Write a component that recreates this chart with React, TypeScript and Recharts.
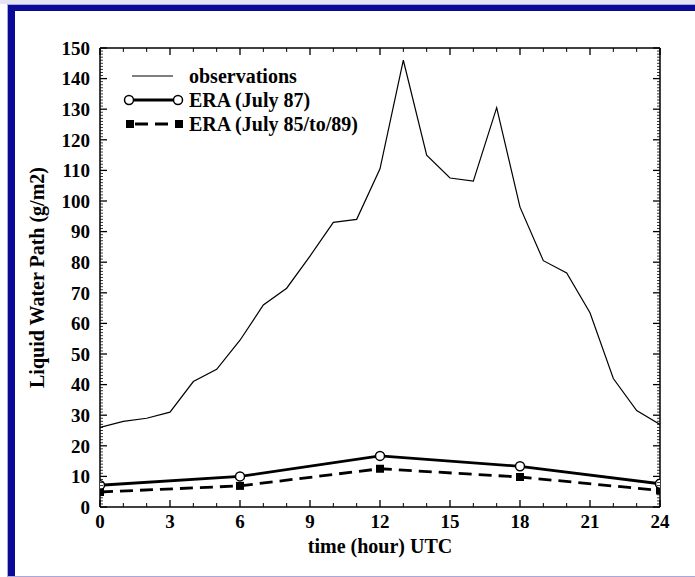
import React from 'react';
import { LineChart, Line, XAxis, YAxis, Legend, Label, ReferenceLine } from 'recharts';

// Hour of day (UTC) for the observed diurnal cycle
const hours = [0, 1, 2, 3, 4, 5, 6, 7, 8, 9, 10, 11, 12, 13, 14, 15, 16, 17, 18, 19, 20, 21, 22, 23, 24];
// Observed liquid water path (g/m2)
const observations = [26, 28, 29, 31, 41, 45, 54.5, 66, 71.5, 82, 93, 94, 110.5, 146, 115, 107.5, 106.5, 130.5, 98, 80.5, 76.5, 63.5, 42, 31.5, 27];
// ERA reanalysis, six-hourly
const eraHours = [0, 6, 12, 18, 24];
const eraJuly87 = [7.1, 10, 16.7, 13.3, 7.6];
const eraJuly85to89 = [4.9, 6.9, 12.5, 9.8, 5.4];

// Labelled ticks every 3 h / 10 g/m2, plain marks every 1 h / 1 g/m2
const xLabelStep = 3;
const yLabelStep = 10;
const yTickValues = Array.from({ length: 151 }, (_, i) => i);

const seriesNames = ['observations', 'ERA (July 87)', 'ERA (July 85/to/89)'];

const table = hours.map((h, i) => {
  const k = eraHours.indexOf(h);
  return {
    hour: h,
    obs: observations[i],
    era87: k >= 0 ? eraJuly87[k] : null,
    era8589: k >= 0 ? eraJuly85to89[k] : null,
  };
});

const FONT = '"Liberation Serif", "Times New Roman", serif';
const INK = '#000';
const NAVY = '#0a0a96';

const MARGIN = { top: 48, right: 35, bottom: 30, left: 0 };
const CHART_W = 695;
const CHART_H = 577;
const Y_AXIS_W = 100;
const X_AXIS_H = 40;
const PLOT_TOP = MARGIN.top;
const PLOT_RIGHT = CHART_W - MARGIN.right;
const X_TICK_MARGIN = 8;
const Y_TICK_MARGIN = 10;

const tickTextStyle = { fontSize: 19, fontWeight: 700, fontFamily: FONT, fill: INK };

// bottom axis: inward marks on the bottom and top frame, label every 3 h
const xTick = (p: any) => {
  const v = p.payload.value;
  const major = v % xLabelStep === 0;
  const len = major ? 7 : 4;
  const base = p.y - X_TICK_MARGIN;
  return (
    <g key={`xt-${v}`}>
      <line x1={p.x} x2={p.x} y1={base} y2={base - len} stroke={INK} strokeWidth={major ? 1.3 : 1} />
      <line x1={p.x} x2={p.x} y1={PLOT_TOP} y2={PLOT_TOP + len} stroke={INK} strokeWidth={major ? 1.3 : 1} />
      {major && (
        <text x={p.x} y={p.y} dy="0.71em" textAnchor="middle" style={tickTextStyle}>{v}</text>
      )}
    </g>
  );
};

// left axis: inward marks on the left and right frame, label every 10
const yTick = (p: any) => {
  const v = p.payload.value;
  const major = v % yLabelStep === 0;
  const len = major ? 7 : 3;
  const base = p.x + Y_TICK_MARGIN;
  return (
    <g key={`yt-${v}`}>
      <line x1={base} x2={base + len} y1={p.y} y2={p.y} stroke={INK} strokeWidth={major ? 1.3 : 0.8} />
      <line x1={PLOT_RIGHT} x2={PLOT_RIGHT - len} y1={p.y} y2={p.y} stroke={INK} strokeWidth={major ? 1.3 : 0.8} />
      {major && (
        <text x={p.x} y={p.y} dy="0.355em" textAnchor="end" style={tickTextStyle}>{v}</text>
      )}
    </g>
  );
};

const squareDot = (p: any) => {
  if (p.cx == null || p.cy == null || p.value == null) return <g key={`sq-${p.index}`} />;
  return <rect key={`sq-${p.index}`} x={p.cx - 4} y={p.cy - 4} width={8} height={8} fill={INK} />;
};

const circleDot = (p: any) => {
  if (p.cx == null || p.cy == null || p.value == null) return <g key={`ci-${p.index}`} />;
  return <circle key={`ci-${p.index}`} cx={p.cx} cy={p.cy} r={4.5} fill="#fff" stroke={INK} strokeWidth={1.5} />;
};

const yTitle = (props: any) => {
  const vb = props.viewBox || { y: 48, height: 459 };
  const cx = 44;
  const cy = vb.y + vb.height / 2;
  return (
    <text x={cx} y={cy} transform={`rotate(-90 ${cx} ${cy})`} textAnchor="middle"
      style={{ fontSize: 20, fontWeight: 700, fontFamily: FONT, fill: INK }}>
      Liquid Water Path (g/m2)
    </text>
  );
};

const xTitle = (props: any) => {
  const vb = props.viewBox || { x: 100, width: 560 };
  return (
    <text x={vb.x + vb.width / 2} y={553} textAnchor="middle"
      style={{ fontSize: 20, fontWeight: 700, fontFamily: FONT, fill: INK }}>
      time (hour) UTC
    </text>
  );
};

const legendSample = (i: number) => {
  if (i === 0) return <line x1={12} x2={53} y1={12} y2={12} stroke={INK} strokeWidth={1.2} />;
  if (i === 1)
    return (
      <g>
        <line x1={9} x2={58} y1={12} y2={12} stroke={INK} strokeWidth={2.8} />
        <circle cx={9} cy={12} r={4.5} fill="#fff" stroke={INK} strokeWidth={1.5} />
        <circle cx={58} cy={12} r={4.5} fill="#fff" stroke={INK} strokeWidth={1.5} />
      </g>
    );
  return (
    <g>
      <line x1={10} x2={59} y1={12} y2={12} stroke={INK} strokeWidth={2.8} strokeDasharray="13 7" strokeDashoffset={-5} />
      <rect x={6} y={8} width={8} height={8} fill={INK} />
      <rect x={55} y={8} width={8} height={8} fill={INK} />
    </g>
  );
};

const renderLegend = () => (
  <div style={{ position: 'relative', width: 300, height: 72 }}>
    {seriesNames.map((name, i) => (
      <div key={name} style={{ position: 'absolute', left: 0, top: i * 24, height: 24, width: 300 }}>
        <svg width={66} height={24} style={{ position: 'absolute', left: 0, top: 0 }}>
          {legendSample(i)}
        </svg>
        <span style={{ position: 'absolute', left: 69, top: 0, lineHeight: '24px', fontSize: 20, fontWeight: 700, fontFamily: FONT, color: INK, whiteSpace: 'nowrap' }}>
          {name}
        </span>
      </div>
    ))}
  </div>
);

export default function App() {
  return (
    <div style={{ position: 'absolute', left: 0, top: 0, width: 695, height: 577, background: '#fff', overflow: 'hidden' }}>
      <div style={{ position: 'absolute', left: 0, top: 0, width: 695, height: 4, background: '#e4e4f4' }} />
      <div style={{ position: 'absolute', left: 7, top: 4, width: 700, height: 573, border: '1px solid #a8a8dc', boxSizing: 'border-box' }} />
      <div style={{ position: 'absolute', left: 8, top: 5, width: 700, height: 6, background: NAVY }} />
      <div style={{ position: 'absolute', left: 8, top: 5, width: 7, height: 571, background: NAVY }} />
      <div style={{ position: 'absolute', left: 0, top: 0 }}>
        <LineChart width={CHART_W} height={CHART_H} data={table} margin={MARGIN}>
          <XAxis dataKey="hour" type="number" domain={[0, 24]} ticks={hours} interval={0}
            tickLine={false} tickSize={0} tickMargin={X_TICK_MARGIN} height={X_AXIS_H}
            axisLine={{ stroke: INK, strokeWidth: 1.5 }} tick={xTick} allowDataOverflow>
            <Label content={xTitle} />
          </XAxis>
          <YAxis type="number" domain={[0, 150]} ticks={yTickValues} interval={0}
            tickLine={false} tickSize={0} tickMargin={Y_TICK_MARGIN} width={Y_AXIS_W}
            axisLine={{ stroke: INK, strokeWidth: 1.5 }} tick={yTick} allowDataOverflow>
            <Label content={yTitle} />
          </YAxis>

          {/* closing top and right frame lines */}
          <ReferenceLine y={150} stroke={INK} strokeWidth={1.5} />
          <ReferenceLine x={24} stroke={INK} strokeWidth={1.5} />

          <Line dataKey="obs" name={seriesNames[0]} stroke={INK} strokeWidth={1.2} dot={false}
            isAnimationActive={false} />
          <Line dataKey="era8589" name={seriesNames[2]} stroke={INK} strokeWidth={2.8} strokeDasharray="13 7"
            connectNulls dot={squareDot} isAnimationActive={false} />
          <Line dataKey="era87" name={seriesNames[1]} stroke={INK} strokeWidth={2.8}
            connectNulls dot={circleDot} isAnimationActive={false} />

          <Legend layout="vertical" align="center" verticalAlign="middle" content={renderLegend}
            wrapperStyle={{ left: 120, top: 64, width: 300, height: 72 }} />
        </LineChart>
      </div>
    </div>
  );
}
